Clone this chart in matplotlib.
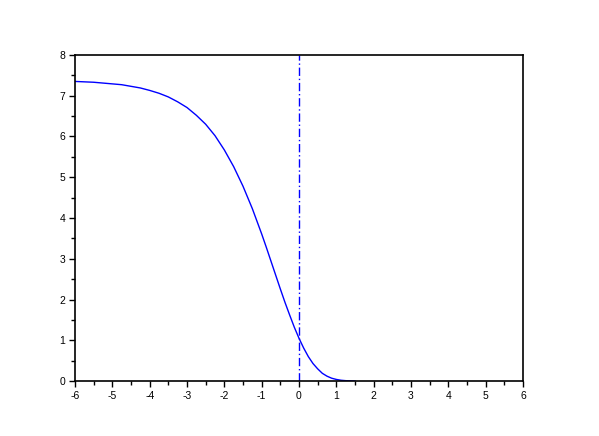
import numpy as np
import matplotlib.pyplot as plt
from matplotlib.ticker import MultipleLocator

plt.rcParams['font.family'] = ['Liberation Sans', 'DejaVu Sans']
plt.rcParams['axes.unicode_minus'] = False

# values
x_vals = [-6.0, -5.75, -5.5, -5.25, -5.0, -4.75, -4.5, -4.25, -4.0, -3.75,
          -3.5, -3.25, -3.0, -2.75, -2.5, -2.25, -2.0, -1.75, -1.5, -1.25,
          -1.0, -0.875, -0.75, -0.625, -0.5, -0.375, -0.25, -0.125, 0.0,
          0.125, 0.25, 0.375, 0.5, 0.625, 0.75, 0.875, 1.0, 1.125, 1.25, 1.5]
y_vals = [7.35, 7.34, 7.33, 7.31, 7.29, 7.27, 7.23, 7.19, 7.13, 7.06,
          6.97, 6.85, 6.71, 6.52, 6.30, 6.02, 5.67, 5.26, 4.78, 4.23,
          3.61, 3.28, 2.94, 2.60, 2.26, 1.93, 1.62, 1.32, 1.05,
          0.81, 0.60, 0.43, 0.30, 0.19, 0.12, 0.07, 0.04, 0.02, 0.01, 0.0]

vline_x = 0
vline_y = [0, 8]

x_ticks = [-6, -5, -4, -3, -2, -1, 0, 1, 2, 3, 4, 5, 6]
y_ticks = [0, 1, 2, 3, 4, 5, 6, 7, 8]

fig = plt.figure(figsize=(5.99, 4.36), dpi=100)
ax = fig.add_axes([0.1252, 0.126, 0.7479, 0.748])

ax.plot(x_vals, y_vals, color='#0000ff', lw=1.0)
ax.plot([vline_x, vline_x], vline_y, color='#0000ff', lw=1.0, linestyle='-.',
        dashes=(6, 2, 1, 2))

ax.set_xlim(-6, 6)
ax.set_ylim(0, 8)
ax.set_xticks(x_ticks)
ax.set_yticks(y_ticks)
ax.xaxis.set_minor_locator(MultipleLocator(0.5))
ax.yaxis.set_minor_locator(MultipleLocator(0.5))
ax.tick_params(which='major', direction='out', length=4, width=1, labelsize=7.5, pad=3)
ax.tick_params(which='minor', direction='out', length=3, width=1)
ax.tick_params(top=False, right=False)

for s in ax.spines.values():
    s.set_linewidth(1.2)
    s.set_color('black')

plt.savefig('out.png', dpi=100)
